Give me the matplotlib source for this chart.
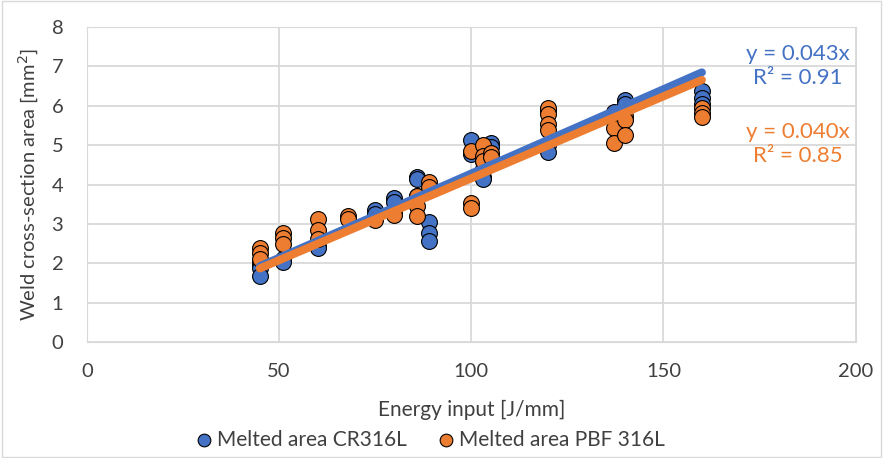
import numpy as np
import matplotlib.pyplot as plt

plt.rcParams['font.family'] = ['Lato', 'DejaVu Sans']

# Melted area CR316L
cr_x = [45, 45, 45, 45, 51, 51, 60, 60, 75, 75, 80, 80, 86, 86, 86,
        89, 89, 89, 100, 100, 103, 103, 103, 103, 105, 105,
        120, 120, 120, 137, 140, 140, 160, 160, 160]
cr_y = [2.05, 1.95, 1.88, 1.68, 2.1, 2.03, 2.45, 2.39, 3.35, 3.25, 3.65, 3.55, 4.19, 4.15, 3.7,
        3.05, 2.77, 2.56, 5.12, 4.78, 4.6, 4.4, 4.2, 4.15, 5.05, 4.95,
        5.9, 5.0, 4.82, 5.85, 6.14, 6.05, 6.38, 6.2, 6.05]

# Melted area PBF 316L
pbf_x = [45, 45, 45, 51, 51, 51, 60, 60, 60, 68, 68, 75, 80, 80, 86, 86, 86,
         89, 89, 100, 100, 100, 103, 103, 103, 105, 105,
         120, 120, 120, 120, 137, 137, 140, 140, 140, 160, 160, 160]
pbf_y = [2.39, 2.26, 2.12, 2.77, 2.64, 2.5, 3.12, 2.84, 2.62, 3.2, 3.12, 3.1, 3.3, 3.22, 3.7, 3.45, 3.2,
         4.06, 3.95, 3.52, 3.4, 4.85, 5.0, 4.72, 4.6, 4.8, 4.7,
         5.94, 5.8, 5.55, 5.38, 5.43, 5.05, 5.75, 5.63, 5.25, 5.94, 5.82, 5.71]

# trendline slopes as drawn in the picture, and the equation labels shown
trend_cr = 0.0428
trend_pbf = 0.0416
label_cr = 'y = 0.043x\nR² = 0.91'
label_pbf = 'y = 0.040x\nR² = 0.85'

blue = '#4472C4'
orange = '#ED7D31'
grey_txt = '#404040'

fig = plt.figure(figsize=(8.83, 4.58), dpi=100)
ax = fig.add_axes([0.0985, 0.253, 0.8705, 0.688])

ax.scatter(cr_x, cr_y, s=130, color=blue, edgecolor='black', linewidth=0.8, zorder=3,
           label='Melted area CR316L')
ax.scatter(pbf_x, pbf_y, s=130, color=orange, edgecolor='black', linewidth=0.8, zorder=3,
           label='Melted area PBF 316L')

xl = np.array([min(cr_x), max(cr_x)])
ax.plot(xl, trend_cr * xl, color=blue, lw=5.8, solid_capstyle='round', zorder=4)
xl = np.array([min(pbf_x), max(pbf_x)])
ax.plot(xl, trend_pbf * xl, color=orange, lw=5.8, solid_capstyle='round', zorder=5)

ax.text(0.925, 0.876, label_cr, transform=ax.transAxes, color=blue, fontsize=16,
        ha='center', va='center', multialignment='center', linespacing=1.25)
ax.text(0.925, 0.629, label_pbf, transform=ax.transAxes, color=orange, fontsize=16,
        ha='center', va='center', multialignment='center', linespacing=1.25)

ax.set_xlim(0, 200)
ax.set_ylim(0, 8)
ax.set_xticks(np.arange(0, 201, 50))
ax.set_yticks(np.arange(0, 9, 1))
ax.grid(True, color='#d9d9d9', lw=1.3)
ax.set_axisbelow(True)
for s in ax.spines.values():
    s.set_color('#d9d9d9')
ax.tick_params(length=0, labelsize=14.5, colors=grey_txt)
ax.tick_params(axis='y', pad=17)
ax.tick_params(axis='x', pad=15)
ax.set_xlabel('Energy input [J/mm]', fontsize=15, color=grey_txt, labelpad=14)
ax.set_ylabel('Weld cross-section area [mm$^2$]', fontsize=14.5, color=grey_txt, labelpad=8)

# 图例放在底部
fig.legend(loc='center', bbox_to_anchor=(0.488, 0.04), ncol=2, frameon=False,
           fontsize=15, handlelength=0.7, handletextpad=0.3, columnspacing=1.5,
           labelcolor=grey_txt, markerscale=0.8)

fig.patches.append(plt.Rectangle((0.002, 0.002), 0.996, 0.996, transform=fig.transFigure,
                                 fill=False, edgecolor='#d9d9d9', lw=1))

fig.savefig('out.png', dpi=100)
